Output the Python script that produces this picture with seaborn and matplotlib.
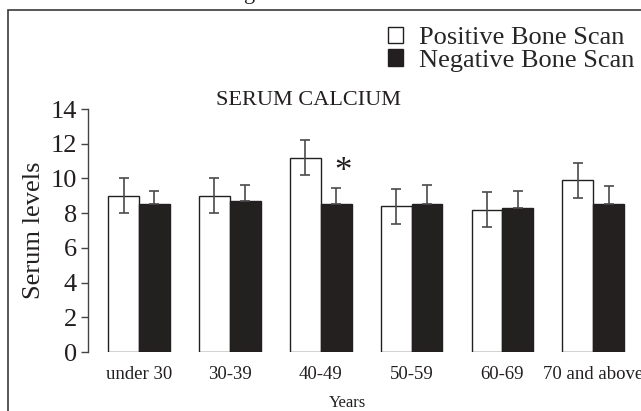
import matplotlib
matplotlib.use("Agg")
import matplotlib.pyplot as plt
import seaborn as sns
import pandas as pd
from matplotlib.patches import Rectangle, Patch

groups = ["under 30", "30-39", "40-49", "50-59", "60-69", "70 and above"]
series = ["Positive Bone Scan", "Negative Bone Scan"]
positive = [9.0, 9.0, 11.2, 8.4, 8.2, 9.9]
positive_err = [1.0, 1.0, 1.0, 1.0, 1.0, 1.0]
negative = [8.5, 8.7, 8.5, 8.5, 8.3, 8.5]
negative_err = [0.8, 0.93, 0.93, 1.14, 0.96, 1.08]
yticks = [0, 2, 4, 6, 8, 10, 12, 14]

sns.set_theme(style="white")
plt.rcParams["font.family"] = ["Liberation Serif", "DejaVu Serif"]

BLACK = "#231f20"
df = pd.DataFrame({
    "Years": groups * 2,
    "value": positive + negative,
    "Scan": [series[0]] * len(groups) + [series[1]] * len(groups),
})

fig = plt.figure(figsize=(6.41, 4.11), dpi=100)
W, H = 641, 411
ax = fig.add_axes([88 / W, 59 / H, (W - 88) / W, 243 / H])

sns.barplot(data=df, x="Years", y="value", hue="Scan", hue_order=series,
            palette={series[0]: "white", series[1]: BLACK},
            width=0.68, errorbar=None, edgecolor=BLACK, linewidth=1.0,
            legend=False, ax=ax)

bar_conts = list(ax.containers)
for cont, errs, up_only in zip(bar_conts, [positive_err, negative_err], [False, True]):
    xs = [p.get_x() + p.get_width() / 2 for p in cont]
    ys = [p.get_height() for p in cont]
    yerr = [[0] * len(errs), errs] if up_only else errs
    ax.errorbar(xs, ys, yerr=yerr, fmt="none", ecolor="#4a4a4a",
                elinewidth=1.2, capsize=3.5, capthick=1.2, zorder=3)

# significance marker over 40-49 negative bar
p = bar_conts[1][2]
ax.text(p.get_x() + p.get_width() / 2 + 0.08, 10.35, "*", fontsize=25,
        ha="center", va="center", color=BLACK)

ax.set_xlim((88 - 139) / 90.86, (W - 139) / 90.86)
ax.set_ylim(0, 14)
ax.set_yticks(yticks)
ax.set_yticklabels([str(v) for v in yticks], fontsize=19, color=BLACK)
ax.tick_params(axis="y", direction="out", length=5, width=1, color="#444444", pad=3, left=True)
ax.tick_params(axis="x", length=0, pad=10, labelsize=13.5, labelcolor=BLACK)
for s in ["top", "right", "bottom"]:
    ax.spines[s].set_visible(False)
ax.spines["left"].set_color("#444444")
ax.spines["left"].set_linewidth(1.0)
ax.set_xlabel("")
ax.set_ylabel("Serum levels", fontsize=19, color=BLACK, labelpad=4)

fig.text(309 / W, 1 - 100 / H, "SERUM CALCIUM", fontsize=16, ha="center", va="center", color=BLACK)
fig.text(347 / W, 1 - 403 / H, "Years", fontsize=12, ha="center", va="center", color=BLACK)
fig.text(250 / W, 1.0 + 1 / H, "g", fontsize=16, ha="center", va="baseline", color=BLACK)

handles = [Patch(facecolor="white", edgecolor=BLACK, linewidth=1.0),
           Patch(facecolor=BLACK, edgecolor=BLACK, linewidth=1.0)]
fig.legend(handles=handles, labels=series, loc="upper left",
           bbox_to_anchor=(388 / W, 1 - 27 / H), frameon=False, fontsize=19,
           handlelength=0.57, handleheight=0.57, handletextpad=0.6,
           labelspacing=0.0, borderpad=0, borderaxespad=0)

fig.add_artist(Rectangle((8 / W, -0.1), 1.2, 1.1 - 10 / H, transform=fig.transFigure,
                         fill=False, edgecolor="#3a3a3a", linewidth=1.2))

fig.savefig("out.png", dpi=100)
